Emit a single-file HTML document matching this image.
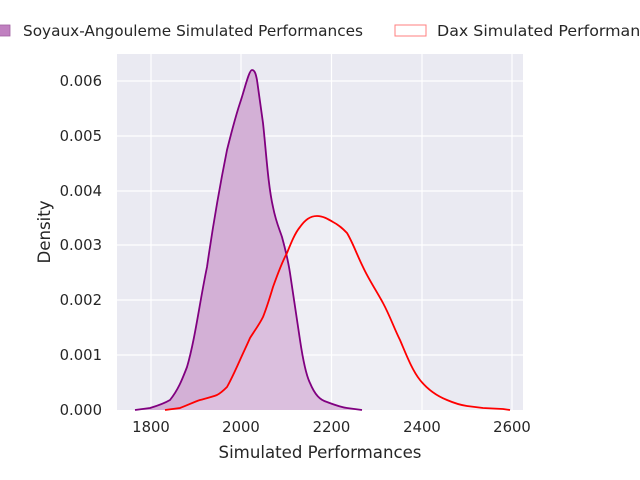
<!DOCTYPE html>
<html><head><meta charset="utf-8"><style>
body{margin:0;background:#fff;}
svg{display:block;font-family:"DejaVu Sans","Liberation Sans",sans-serif;}
</style></head><body>
<svg width="640" height="480" viewBox="0 0 640 480" xmlns="http://www.w3.org/2000/svg">
<rect x="117" y="54" width="406" height="356" fill="#eaeaf2"/>
<g stroke="#fff" stroke-width="1.2">
<line x1="151" y1="54" x2="151" y2="410"/><line x1="241" y1="54" x2="241" y2="410"/>
<line x1="331.5" y1="54" x2="331.5" y2="410"/><line x1="422" y1="54" x2="422" y2="410"/>
<line x1="512" y1="54" x2="512" y2="410"/>
<line x1="117" y1="81" x2="523" y2="81"/><line x1="117" y1="136" x2="523" y2="136"/>
<line x1="117" y1="191" x2="523" y2="191"/><line x1="117" y1="245" x2="523" y2="245"/>
<line x1="117" y1="300" x2="523" y2="300"/><line x1="117" y1="355" x2="523" y2="355"/>
</g>
<path d="M135,410 L150,408 C160,405 165,403 170,400 C178,390 182,380 187,367 C195,340 200,300 207,267 C213,225 220,185 227,150 C232,130 236,115 240,103 C245,88 249,70 252,70 C255,70 256,75 257,80 C259,95 261,108 263,123 C266,150 268,185 273,207 C276,222 279,228 282,237 C285,248 288,260 290,273 C294,300 297,320 300,340 C303,360 306,375 310,383 C315,395 320,400 327,402 C335,405 340,407 347,408 L362,410 Z" fill="#d3b0d6"/>
<path d="M180,410 L180,408 C188,405 194,402 200,400 C207,398 212,397 217,395 C221,393 224,390 227,387 C232,378 236,369 240,360 C244,351 247,345 250,338 C255,330 259,325 263,317 C267,307 270,297 273,287 C278,273 282,262 287,253 C291,243 295,233 300,227 C305,220 310,216 317,216 C323,216 328,219 333,222 C339,225 343,229 347,233 C353,243 357,255 363,267 C369,280 376,290 383,303 C390,316 394,328 400,340 C406,354 412,370 420,380 C428,390 437,396 447,400 C454,403 460,405 467,406 L483,408 L503,409 L510,410 Z" fill="#ffffff" fill-opacity="0.2"/>
<path d="M135,410 L150,408 C160,405 165,403 170,400 C178,390 182,380 187,367 C195,340 200,300 207,267 C213,225 220,185 227,150 C232,130 236,115 240,103 C245,88 249,70 252,70 C255,70 256,75 257,80 C259,95 261,108 263,123 C266,150 268,185 273,207 C276,222 279,228 282,237 C285,248 288,260 290,273 C294,300 297,320 300,340 C303,360 306,375 310,383 C315,395 320,400 327,402 C335,405 340,407 347,408 L362,410" fill="none" stroke="#800080" stroke-width="1.8"/>
<path d="M165,410 L180,408 C188,405 194,402 200,400 C207,398 212,397 217,395 C221,393 224,390 227,387 C232,378 236,369 240,360 C244,351 247,345 250,338 C255,330 259,325 263,317 C267,307 270,297 273,287 C278,273 282,262 287,253 C291,243 295,233 300,227 C305,220 310,216 317,216 C323,216 328,219 333,222 C339,225 343,229 347,233 C353,243 357,255 363,267 C369,280 376,290 383,303 C390,316 394,328 400,340 C406,354 412,370 420,380 C428,390 437,396 447,400 C454,403 460,405 467,406 L483,408 L503,409 L510,410" fill="none" stroke="#ff0000" stroke-width="1.8"/>
<g font-size="14.8" fill="#262626">
<g text-anchor="middle">
<text x="151" y="432">1800</text><text x="241" y="432">2000</text><text x="331.5" y="432">2200</text>
<text x="422" y="432">2400</text><text x="512" y="432">2600</text>
</g>
<g text-anchor="end">
<text x="102" y="415">0.000</text><text x="102" y="360">0.001</text><text x="102" y="305">0.002</text>
<text x="102" y="250">0.003</text><text x="102" y="196">0.004</text><text x="102" y="141">0.005</text>
<text x="102" y="86">0.006</text>
</g>
<text x="320" y="458" text-anchor="middle" font-size="16.6">Simulated Performances</text>
<text transform="translate(50,232) rotate(-90)" text-anchor="middle" font-size="16.6">Density</text>
</g>
<rect x="-2" y="25" width="12" height="11" fill="#c080c0" stroke="#a060a0" stroke-width="0.8"/>
<rect x="395" y="25" width="31" height="11" fill="#fff" stroke="#ff7f7f" stroke-width="1"/>
<g font-size="15" fill="#262626">
<text x="23" y="36" textLength="340" lengthAdjust="spacingAndGlyphs">Soyaux-Angouleme Simulated Performances</text>
<text x="437" y="36" textLength="230" lengthAdjust="spacingAndGlyphs">Dax Simulated Performances</text>
</g>
</svg>
</body></html>
